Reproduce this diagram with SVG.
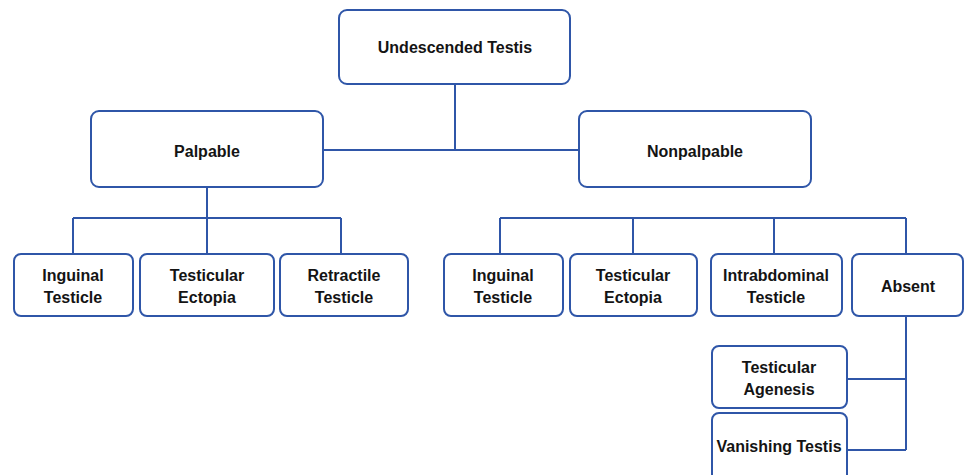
<svg xmlns="http://www.w3.org/2000/svg" width="967" height="475" viewBox="0 0 967 475">
<style>
.box{fill:#ffffff;stroke:#2f56a8;stroke-width:2}
.ln{fill:none;stroke:#2f56a8;stroke-width:2}
text{font-family:"Liberation Sans",Arial,sans-serif;font-weight:bold;font-size:16px;fill:#141414;text-anchor:middle}
</style>
<rect width="967" height="475" fill="#ffffff"/>
<g id="connectors">
<path class="ln" d="M455 84V150M323 150H579"/>
<path class="ln" d="M207 187V218M73 218H341M73 218V254M207 218V254M341 218V254"/>
<path class="ln" d="M500 218H906M500 218V254M633 218V254M774 218V254M906 218V254"/>
<path class="ln" d="M906 316V450M847 379H906M847 450H906"/>
</g>
<g id="root"><rect class="box" x="339" y="10" width="231" height="74" rx="8"/><text x="455" y="53">Undescended Testis</text></g>
<g id="palpable"><rect class="box" x="91" y="111" width="232" height="76" rx="8"/><text x="207" y="157">Palpable</text></g>
<g id="nonpalpable"><rect class="box" x="579" y="111" width="232" height="76" rx="8"/><text x="695" y="157">Nonpalpable</text></g>
<g id="p-inguinal"><rect class="box" x="14" y="254" width="119" height="62" rx="7"/><text x="73" y="281">Inguinal</text><text x="73" y="303">Testicle</text></g>
<g id="p-ectopia"><rect class="box" x="140" y="254" width="134" height="62" rx="7"/><text x="207" y="281">Testicular</text><text x="207" y="303">Ectopia</text></g>
<g id="p-retractile"><rect class="box" x="280" y="254" width="128" height="62" rx="7"/><text x="344" y="281">Retractile</text><text x="344" y="303">Testicle</text></g>
<g id="n-inguinal"><rect class="box" x="444" y="254" width="119" height="62" rx="7"/><text x="503" y="281">Inguinal</text><text x="503" y="303">Testicle</text></g>
<g id="n-ectopia"><rect class="box" x="570" y="254" width="127" height="62" rx="7"/><text x="633" y="281">Testicular</text><text x="633" y="303">Ectopia</text></g>
<g id="n-intra"><rect class="box" x="711" y="254" width="131" height="62" rx="7"/><text x="776" y="281">Intrabdominal</text><text x="776" y="303">Testicle</text></g>
<g id="absent"><rect class="box" x="852" y="254" width="111" height="62" rx="7"/><text x="908" y="292">Absent</text></g>
<g id="agenesis"><rect class="box" x="712" y="346" width="135" height="62" rx="7"/><text x="779" y="373">Testicular</text><text x="779" y="395">Agenesis</text></g>
<g id="vanishing"><rect class="box" x="712" y="413" width="135" height="70" rx="7"/><text x="779" y="452">Vanishing Testis</text></g>
</svg>
